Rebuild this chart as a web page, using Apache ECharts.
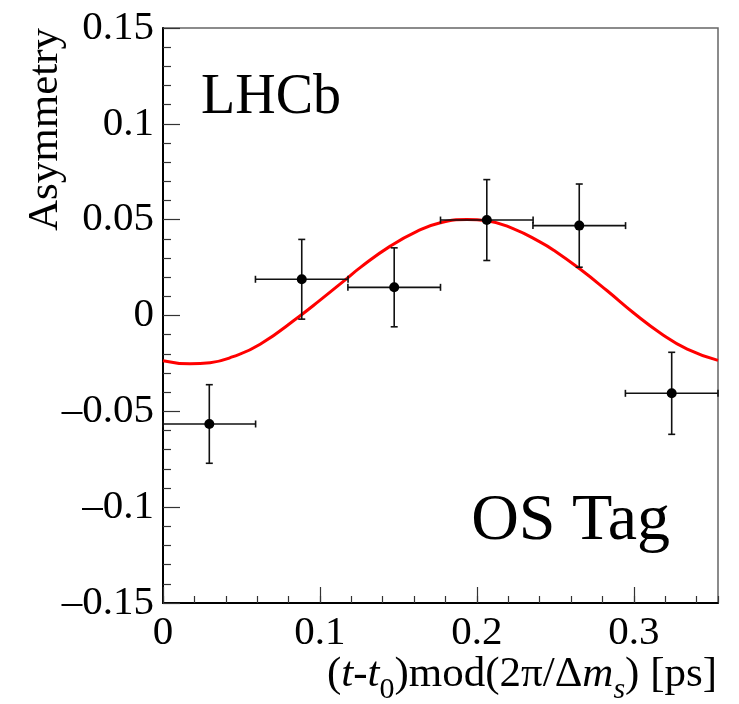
<!DOCTYPE html>
<html>
<head>
<meta charset="utf-8">
<script src="https://cdn.jsdelivr.net/npm/echarts@6/dist/echarts.min.js"></script>
<style>html,body{margin:0;padding:0;background:#fff}#c{width:739px;height:704px}</style>
</head>
<body>
<div id="c"></div>
<script>
// Data points (bin centres, asymmetry, errors)
const binCenters = [0.0295, 0.0884, 0.1473, 0.2063, 0.2652, 0.3241];
const binHalfWidth = [0.0295, 0.0295, 0.0295, 0.0295, 0.0295, 0.0295];
const asymmetry = [-0.0566, 0.0189, 0.0147, 0.0498, 0.0469, -0.0406];
const asymErr = [0.0205, 0.0208, 0.0206, 0.0211, 0.0217, 0.0214];

// Fitted curve
const curveX = [0, 0.0172, 0.030, 0.0446, 0.0619, 0.0874, 0.1001, 0.1161, 0.1256, 0.1448, 0.1618, 0.1767, 0.1937, 0.2064, 0.2234, 0.2404, 0.2489, 0.2659, 0.2830, 0.2999, 0.3170, 0.3340, 0.3536];
const curveY = [-0.0236, -0.0252, -0.0246, -0.0215, -0.0150, -0.0001, 0.0080, 0.0186, 0.0250, 0.0362, 0.0439, 0.0484, 0.0501, 0.0494, 0.0452, 0.0383, 0.0341, 0.0241, 0.0129, 0.0013, -0.0092, -0.0175, -0.0234];

// Axis settings
const xMin = 0, xMax = 0.3536, xMajor = 0.1, xMinor = 0.02;
const yMin = -0.15, yMax = 0.15, yMajor = 0.05;

const FONT = "'Liberation Serif', 'DejaVu Serif', serif";

function fmtY(v) {
  const r = Math.round(v * 1000) / 1000;
  if (r === 0) return '0';
  return r < 0 ? '\u2013' + String(-r) : String(r);
}
function fmtX(v) {
  const r = Math.round(v * 1000) / 1000;
  return r === 0 ? '0' : String(r);
}

const chart = echarts.init(document.getElementById('c'), null, {renderer: 'canvas'});

const pointData = binCenters.map((x, i) => [x, asymmetry[i], binHalfWidth[i], asymErr[i]]);
const curveData = curveX.map((x, i) => [x, curveY[i]]);

const option = {
  animation: false,
  backgroundColor: '#fff',
  grid: {
    left: 163, top: 28, right: 21, bottom: 101,
    show: true, borderColor: '#666', borderWidth: 1.5, backgroundColor: 'transparent'
  },
  xAxis: [{
    type: 'value', min: xMin, max: xMax, interval: xMajor,
    axisLine: {show: true, onZero: false, lineStyle: {color: '#000', width: 2}},
    axisTick: {show: true, inside: true, length: 16, lineStyle: {color: '#333', width: 1.2}},
    axisLabel: {show: true, margin: 10, color: '#000', fontFamily: FONT, fontSize: 41, formatter: fmtX, showMaxLabel: false},
    splitLine: {show: false}
  }, {
    type: 'value', min: xMin, max: xMax, interval: xMinor, position: 'bottom',
    axisLine: {show: false, onZero: false},
    axisTick: {show: true, inside: true, length: 7, lineStyle: {color: '#333', width: 1.2}},
    axisLabel: {show: false},
    splitLine: {show: false}
  }],
  yAxis: {
    type: 'value', min: yMin, max: yMax, interval: yMajor,
    axisLine: {show: true, onZero: false, lineStyle: {color: '#000', width: 2}},
    axisTick: {show: true, inside: true, length: 17, lineStyle: {color: '#333', width: 1.2}},
    minorTick: {show: true, splitNumber: 5, length: 8, lineStyle: {color: '#333', width: 1.2}},
    axisLabel: {show: true, margin: 9, color: '#000', fontFamily: FONT, fontSize: 41, formatter: fmtY},
    splitLine: {show: false}, minorSplitLine: {show: false}
  },
  series: [{
    type: 'line', data: curveData, smooth: 0.5, showSymbol: false, symbol: 'none',
    lineStyle: {color: '#ff0000', width: 3}, z: 2, silent: true
  }, {
    type: 'custom', data: pointData, z: 3, clip: false,
    renderItem: function (params, api) {
      const x = api.value(0), y = api.value(1), ex = api.value(2), ey = api.value(3);
      const c = api.coord([x, y]);
      const l = api.coord([x - ex, y]), r = api.coord([x + ex, y]);
      const t = api.coord([x, y + ey]), b = api.coord([x, y - ey]);
      const cap = 3.5;
      const st = {stroke: '#111', lineWidth: 1.6};
      return {type: 'group', children: [
        {type: 'line', shape: {x1: l[0], y1: l[1], x2: r[0], y2: r[1]}, style: st},
        {type: 'line', shape: {x1: t[0], y1: t[1], x2: b[0], y2: b[1]}, style: st},
        {type: 'line', shape: {x1: l[0], y1: l[1] - cap, x2: l[0], y2: l[1] + cap}, style: st},
        {type: 'line', shape: {x1: r[0], y1: r[1] - cap, x2: r[0], y2: r[1] + cap}, style: st},
        {type: 'line', shape: {x1: t[0] - cap, y1: t[1], x2: t[0] + cap, y2: t[1]}, style: st},
        {type: 'line', shape: {x1: b[0] - cap, y1: b[1], x2: b[0] + cap, y2: b[1]}, style: st},
        {type: 'circle', shape: {cx: c[0], cy: c[1], r: 5}, style: {fill: '#000'}}
      ]};
    }
  }],
  graphic: [
    {type: 'text', x: 201, y: 70, style: {text: 'LHCb', font: "56px " + FONT, fill: '#000', align: 'left', verticalAlign: 'top'}},
    {type: 'text', x: 670, y: 489, style: {text: 'OS Tag', font: "66px " + FONT, fill: '#000', align: 'right', verticalAlign: 'top'}},
    {type: 'text', x: 46, y: 28, rotation: Math.PI / 2, style: {text: 'Asymmetry', font: "43px " + FONT, fill: '#000', align: 'right', verticalAlign: 'middle'}},
    {type: 'text', x: 717, y: 653, style: {
      text: '{n|(}{i|t}{n|-}{i|t}{sub|0}{n|)mod(2\u03c0/\u0394}{i|m}{subi|s}{n|) [ps]}',
      align: 'right', verticalAlign: 'top', fill: '#000',
      rich: {
        n: {fontFamily: FONT, fontSize: 43, lineHeight: 48, verticalAlign: 'top', fill: '#000'},
        i: {fontFamily: FONT, fontSize: 43, fontStyle: 'italic', lineHeight: 48, verticalAlign: 'top', fill: '#000'},
        sub: {fontFamily: FONT, fontSize: 30, lineHeight: 34, verticalAlign: 'top', padding: [22, 0, 0, 0], fill: '#000'},
        subi: {fontFamily: FONT, fontSize: 30, fontStyle: 'italic', lineHeight: 34, verticalAlign: 'top', padding: [22, 0, 0, 0], fill: '#000'}
      }
    }}
  ]
};
chart.setOption(option);
</script>
</body>
</html>
